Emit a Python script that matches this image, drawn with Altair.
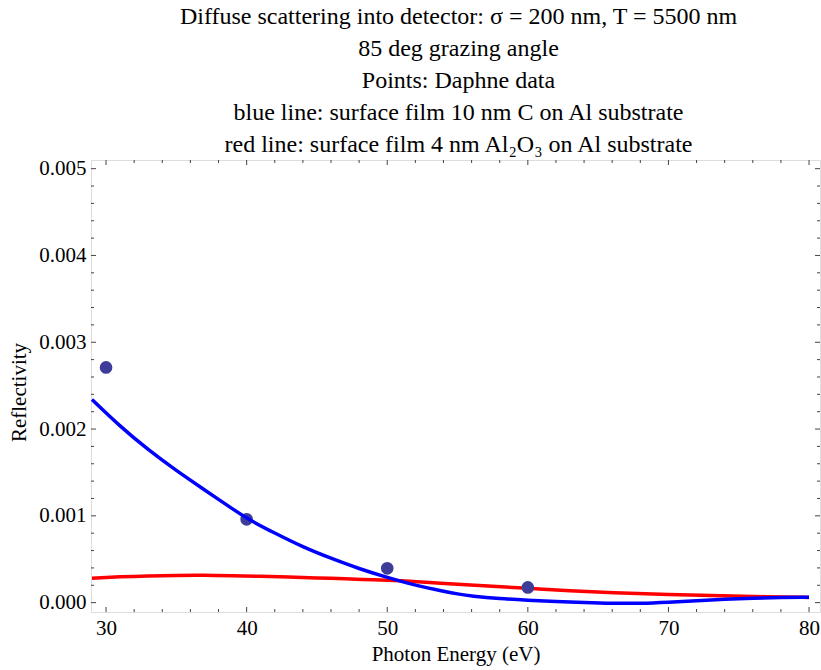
import altair as alt
import pandas as pd

# Measured diffuse reflectivity (Daphne data)
energy_pts = [30, 40, 50, 60]
refl_pts = [0.00271, 0.00096, 0.000395, 0.000175]

# Model: surface film 10 nm C on Al substrate
blue_energy = [29, 31, 33, 35, 37, 38, 39, 40, 42, 44, 46, 48, 50, 51, 52, 54, 55, 56, 58,
               60, 62, 64, 66, 68, 70, 72, 74, 76, 78, 80]
blue_refl = [0.00234, 0.00203, 0.00176, 0.00152, 0.00130, 0.00119, 0.00108, 0.00097,
             0.00080, 0.00064, 0.00051, 0.00039, 0.00029, 0.000245, 0.000200, 0.000130,
             0.000100, 0.000075, 0.000045, 0.000028, 0.000014, 0.000002, -0.000008,
             -0.000009, 0.000005, 0.000022, 0.000040, 0.000052, 0.000059, 0.000062]

# Model: surface film 4 nm Al2O3 on Al substrate
red_energy = [29, 31, 33, 35, 37, 39, 41, 43, 45, 47, 49, 51, 53, 55, 57, 60, 63, 66, 70,
              74, 77, 80]
red_refl = [0.000280, 0.000298, 0.000309, 0.000314, 0.000315, 0.000311, 0.000304,
            0.000295, 0.000285, 0.000274, 0.000264, 0.000252, 0.000232, 0.000210,
            0.000192, 0.000165, 0.000134, 0.000112, 0.000094, 0.000078, 0.000068,
            0.000060]

# Frame ticks
x_major = [30, 40, 50, 60, 70, 80]
x_minor = [32, 34, 36, 38, 42, 44, 46, 48, 52, 54, 56, 58, 62, 64, 66, 68, 72, 74, 76, 78]
y_major = [0.0, 0.001, 0.002, 0.003, 0.004, 0.005]
y_minor = [0.0002, 0.0004, 0.0006, 0.0008, 0.0012, 0.0014, 0.0016, 0.0018,
           0.0022, 0.0024, 0.0026, 0.0028, 0.0032, 0.0034, 0.0036, 0.0038,
           0.0042, 0.0044, 0.0046, 0.0048]

title_lines = [
    "Diffuse scattering into detector: σ = 200 nm, T = 5500 nm",
    "85 deg grazing angle",
    "Points: Daphne data",
    "blue line: surface film 10 nm C on Al substrate",
    "red line: surface film 4 nm Al₂O₃ on Al substrate",
]

W, H = 729, 452
FONT = "Liberation Serif"
FRAME = "#444444"
MAJOR, MINOR = 5, 3

x_scale = alt.Scale(domain=[28.93, 80.78], nice=False, zero=False)
y_scale = alt.Scale(domain=[-0.000108, 0.0051], nice=False, zero=False)

x_axis = alt.Axis(values=x_major, format="d", title="Photon Energy (eV)",
                  domain=False, ticks=False, grid=False, labelPadding=5,
                  titlePadding=5, labelFontSize=21, titleFontSize=21,
                  labelFont=FONT, titleFont=FONT, titleFontWeight="normal",
                  labelColor="black", titleColor="black")
y_axis = alt.Axis(values=y_major, format=".3f", title="Reflectivity",
                  domain=False, ticks=False, grid=False, labelPadding=5,
                  titlePadding=9, labelFontSize=21, titleFontSize=21,
                  labelFont=FONT, titleFont=FONT, titleFontWeight="normal",
                  labelColor="black", titleColor="black", titleY=H / 2 + 6)

pts = pd.DataFrame({"e": energy_pts, "r": refl_pts})
blue = pd.DataFrame({"e": blue_energy, "r": blue_refl})
red = pd.DataFrame({"e": red_energy, "r": red_refl})


def enc_xy():
    return dict(x=alt.X("e:Q", scale=x_scale, axis=x_axis),
                y=alt.Y("r:Q", scale=y_scale, axis=y_axis))


red_line = alt.Chart(red).mark_line(color="#ff0000", strokeWidth=3.5,
                                    interpolate="basis").encode(**enc_xy())
blue_line = alt.Chart(blue).mark_line(color="#0000ff", strokeWidth=3.5,
                                      interpolate="basis").encode(**enc_xy())
points = alt.Chart(pts).mark_circle(size=160, color="#3d3d99", opacity=1).encode(**enc_xy())


def x_ticks(vals, length):
    df = pd.DataFrame({"e": vals})
    enc_x = alt.X("e:Q", scale=x_scale, axis=x_axis)
    bottom = alt.Chart(df).mark_rule(color=FRAME, strokeWidth=1).encode(
        x=enc_x, y=alt.value(H), y2=alt.value(H - length))
    top = alt.Chart(df).mark_rule(color=FRAME, strokeWidth=1).encode(
        x=enc_x, y=alt.value(0), y2=alt.value(length))
    return [bottom, top]


def y_ticks(vals, length):
    df = pd.DataFrame({"r": vals})
    enc_y = alt.Y("r:Q", scale=y_scale, axis=y_axis)
    left = alt.Chart(df).mark_rule(color=FRAME, strokeWidth=1).encode(
        y=enc_y, x=alt.value(0), x2=alt.value(length))
    right = alt.Chart(df).mark_rule(color=FRAME, strokeWidth=1).encode(
        y=enc_y, x=alt.value(W), x2=alt.value(W - length))
    return [left, right]


tick_layers = (x_ticks(x_major, MAJOR) + x_ticks(x_minor, MINOR)
               + y_ticks(y_major, MAJOR) + y_ticks(y_minor, MINOR))

chart = alt.layer(red_line, points, blue_line, *tick_layers).properties(
    width=W,
    height=H,
    autosize=alt.AutoSizeParams(type="none"),
    padding={"left": 91, "top": 160, "right": 1, "bottom": 58},
    title=alt.TitleParams(text=title_lines, font=FONT, fontSize=24,
                          fontWeight="normal", color="black", lineHeight=32,
                          anchor="middle", offset=1, dx=3),
).configure_view(stroke=FRAME, strokeWidth=1).configure(background="white")

chart.save("out.html", embed_options={"renderer": "svg", "actions": False})
